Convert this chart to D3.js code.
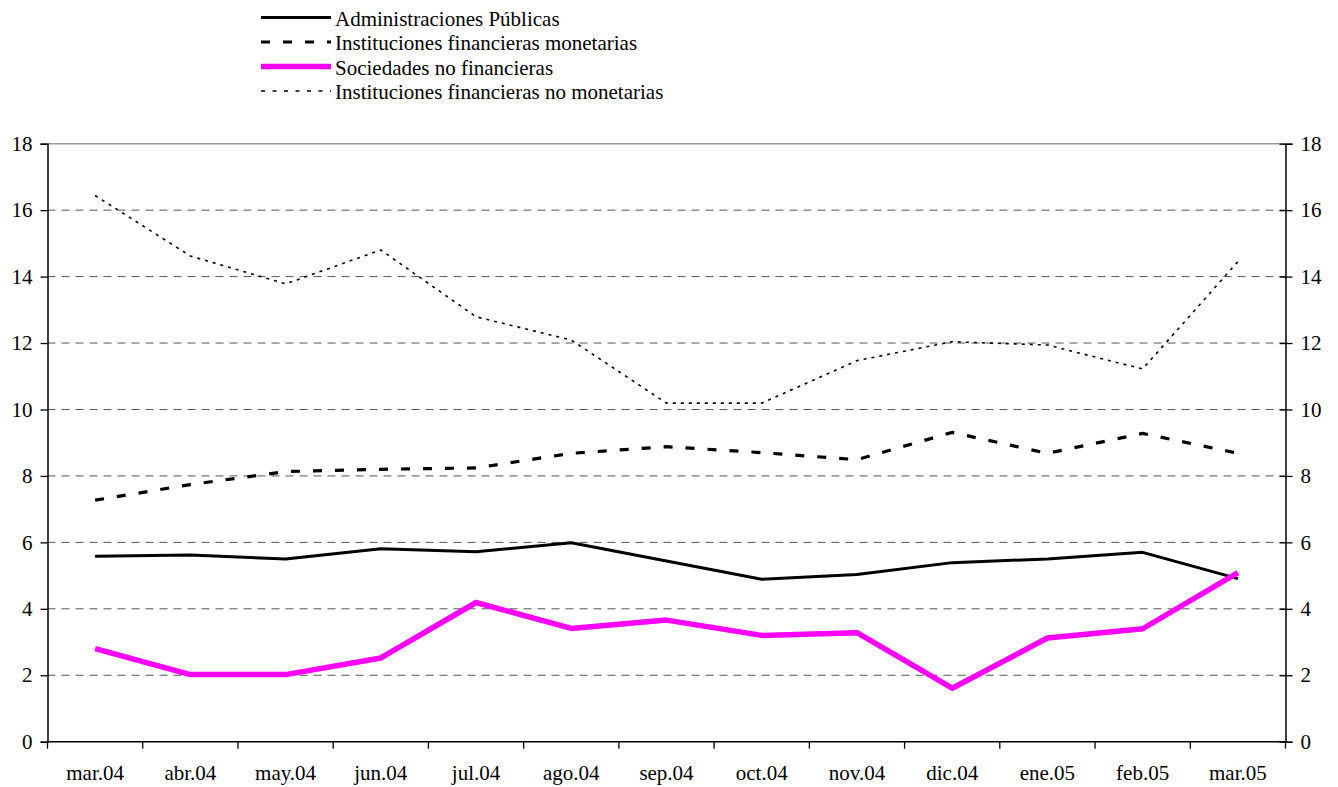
<!DOCTYPE html>
<html>
<head>
<meta charset="utf-8">
<script src="https://cdn.jsdelivr.net/npm/d3@7"></script>
<style>
html,body{margin:0;padding:0;background:#fff;}
svg{display:block;}
svg text{font-family:"Liberation Serif","Times New Roman",serif !important;}
</style>
</head>
<body>
<svg id="chart" width="1338" height="787"></svg>
<script>
const categories = ["mar.04","abr.04","may.04","jun.04","jul.04","ago.04","sep.04","oct.04","nov.04","dic.04","ene.05","feb.05","mar.05"];
const administraciones = [5.58,5.62,5.50,5.81,5.72,5.99,5.44,4.89,5.03,5.39,5.50,5.70,4.91];
const ifMonetarias = [7.27,7.74,8.13,8.20,8.24,8.68,8.88,8.70,8.49,9.31,8.68,9.28,8.68];
const sociedades = [2.80,2.02,2.02,2.52,4.19,3.41,3.66,3.20,3.28,1.61,3.12,3.40,5.09];
const ifNoMonetarias = [16.44,14.62,13.78,14.80,12.79,12.09,10.19,10.19,11.47,12.04,11.94,11.22,14.45];
const yTicks = [0,2,4,6,8,10,12,14,16,18];
const seriesNames = ["Administraciones Públicas","Instituciones financieras monetarias","Sociedades no financieras","Instituciones financieras no monetarias"];

(function(){
const series = [
  {name: seriesNames[3], values: ifNoMonetarias, color:"#000", width:1.6, dash:"3,5"},
  {name: seriesNames[1], values: ifMonetarias, color:"#000", width:3.2, dash:"9,13"},
  {name: seriesNames[0], values: administraciones, color:"#000", width:3, dash:null},
  {name: seriesNames[2], values: sociedades, color:"#ff00ff", width:5.5, dash:null}
];

const svg = d3.select("#chart");
const pLeft = 47.5, pRight = 1285.5, pTop = 143.7, pBottom = 741.7;
const x = d3.scaleBand().domain(categories).range([pLeft, pRight]);
const y = d3.scaleLinear().domain([0,18]).range([pBottom, pTop]);
const cx = c => x(c) + x.bandwidth()/2;

// gridlines
svg.append("g").selectAll("line").data(yTicks.filter(t => t>0 && t<18)).join("line")
  .attr("x1", pLeft).attr("x2", pRight)
  .attr("y1", d => y(d)).attr("y2", d => y(d))
  .attr("stroke", "#555").attr("stroke-width", 1).attr("stroke-dasharray", "8,6");
// top border
svg.append("line").attr("x1", pLeft).attr("x2", pRight).attr("y1", y(18)).attr("y2", y(18))
  .attr("stroke", "#999").attr("stroke-width", 1.6);

// left axis
const gl = svg.append("g").attr("transform", `translate(${pLeft},0)`)
  .call(d3.axisLeft(y).tickValues(yTicks).tickSize(7).tickPadding(8).tickFormat(d3.format("d")));
// right axis
const gr = svg.append("g").attr("transform", `translate(${pRight},0)`)
  .call(d3.axisRight(y).tickValues(yTicks).tickSize(7).tickPadding(8).tickFormat(d3.format("d")));
gr.selectAll(".tick line").attr("x1", -6);
// bottom axis
const gb = svg.append("g").attr("transform", `translate(0,${pBottom})`)
  .call(d3.axisBottom(x).tickSize(0).tickPadding(23));
const boundaries = categories.map(c => x(c)).concat([pRight]);
gb.selectAll(".bnd").data(boundaries).join("line").attr("class","bnd")
  .attr("x1", d => d).attr("x2", d => d).attr("y1", 0).attr("y2", 7)
  .attr("stroke", "#000").attr("stroke-width", 1.3);

[gl, gr, gb].forEach(g => {
  g.attr("font-family", "Liberation Serif, Times New Roman, serif");
  g.selectAll(".domain").attr("stroke", "#000").attr("stroke-width", 1.5);
  g.selectAll(".tick line").attr("stroke", "#000").attr("stroke-width", 1.3);
  g.selectAll("text").attr("font-size", "21px").attr("fill", "#000");
});
gb.selectAll(".domain").attr("d", `M${pLeft},0H${pRight}`);

// lines
const line = d3.line().x((d,i) => cx(categories[i])).y(d => y(d));
svg.append("g").selectAll("path").data(series).join("path")
  .attr("d", d => line(d.values))
  .attr("fill", "none")
  .attr("stroke", d => d.color)
  .attr("stroke-width", d => d.width)
  .attr("stroke-dasharray", d => d.dash)
  .attr("stroke-linejoin", "round");

// legend
const legendOrder = [
  {name: seriesNames[0], color:"#000", width:3, dash:null},
  {name: seriesNames[1], color:"#000", width:3.2, dash:"9,13"},
  {name: seriesNames[2], color:"#ff00ff", width:5.5, dash:null},
  {name: seriesNames[3], color:"#000", width:1.6, dash:"4,7.5"}
];
const lg = svg.append("g");
legendOrder.forEach((s, i) => {
  const ly = 17.5 + i*24.5;
  lg.append("line").attr("x1", 261).attr("x2", 331).attr("y1", ly).attr("y2", ly)
    .attr("stroke", s.color).attr("stroke-width", s.width).attr("stroke-dasharray", s.dash);
  lg.append("text").attr("x", 335).attr("y", ly + 8).attr("font-size", "21px")
    .attr("fill", "#000").text(s.name);
});
})();
</script>
</body>
</html>
